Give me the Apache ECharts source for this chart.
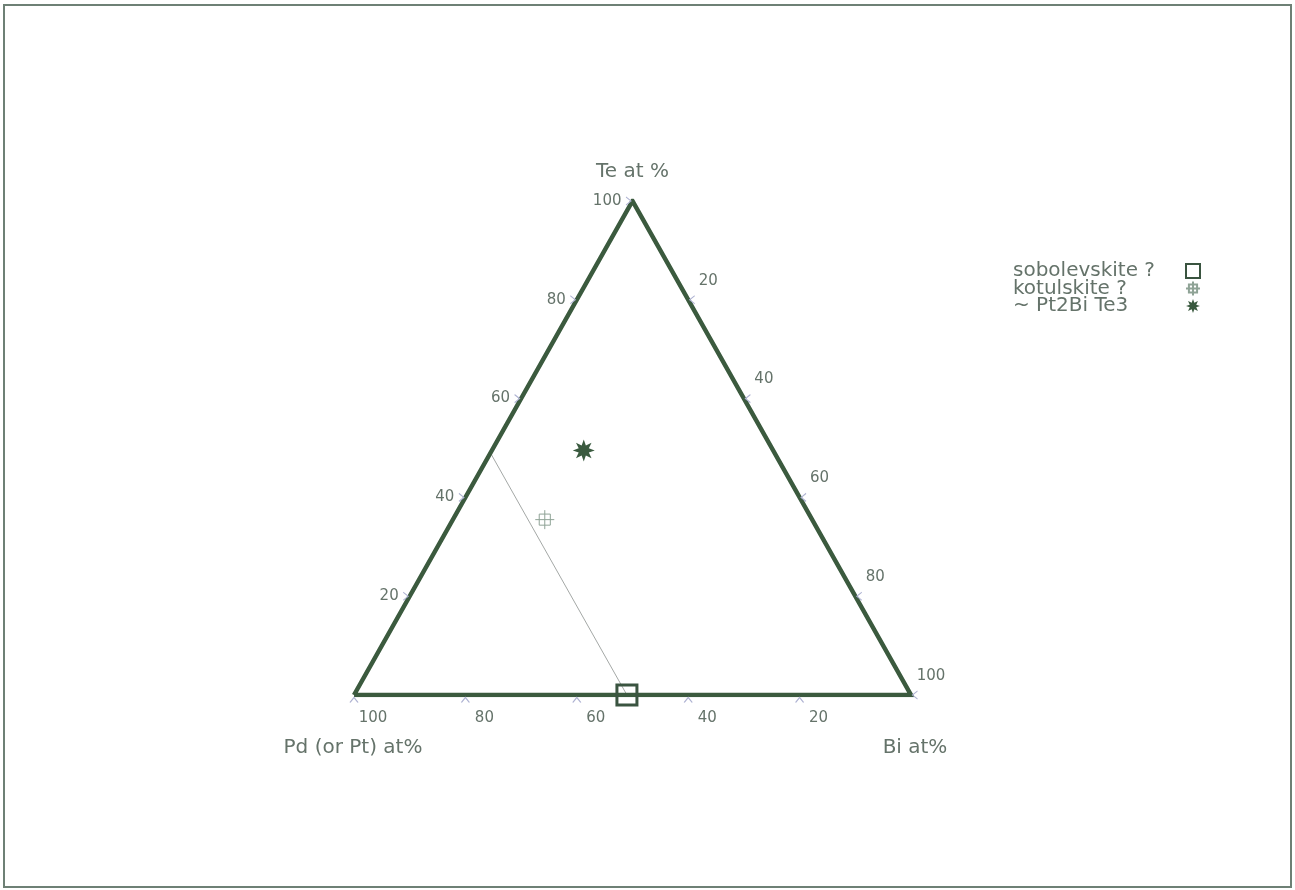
<!DOCTYPE html>
<html>
<head>
<meta charset="utf-8">
<title>Pd–Bi–Te ternary</title>
<script src="https://cdn.jsdelivr.net/npm/echarts@6/dist/echarts.min.js"></script>
<style>
  html, body { margin: 0; padding: 0; background: #fff; }
  #chart { width: 1295px; height: 890px; }
</style>
</head>
<body>
<div id="chart"></div>
<script>
// Compositions are [Pd, Bi, Te] in atomic %.
const vertexNames = ['Pd (or Pt) at%', 'Bi at%', 'Te at %'];
const vertices = [[100, 0, 0], [0, 100, 0], [0, 0, 100]];
const tickValues = [20, 40, 60, 80, 100];
const tieLine = [[51, 0, 49], [51, 49, 0]];
const sobolevskite = [[51, 49, 0]];
const kotulskite = [[48, 16.5, 35.5]];
const pt2bite3 = [[34, 16.5, 49.5]];
const seriesNames = ['sobolevskite ?', 'kotulskite ?', '~ Pt2Bi Te3'];

// ternary -> cartesian (x from Pd corner toward Bi corner, y toward Te apex)
function toXY(c) { return [c[1] + c[2] / 2, c[2]]; }

const frameColor = '#3b5a3e';
const textColor = '#65736a';
const tickColor = '#aeb2d2';
const font = 'DejaVu Sans';

function starPath(n, rOut, rIn) {
  let d = '';
  for (let i = 0; i < n * 2; i++) {
    const r = i % 2 === 0 ? rOut : rIn;
    const a = Math.PI * i / n - Math.PI / 2;
    const x = (rOut + r * Math.cos(a)).toFixed(2);
    const y = (rOut + r * Math.sin(a)).toFixed(2);
    d += (i === 0 ? 'M' : 'L') + x + ',' + y;
  }
  return 'path://' + d + 'Z';
}
const starSymbol = starPath(8, 10, 5);
const crossSymbol = 'path://M2.5,2.5L9.5,2.5L9.5,9.5L2.5,9.5Z M6,0L6,12 M0,6L12,6';
const chevron = 'path://M0,0L5,4L0,8';

const triangle = vertices.concat([vertices[0]]).map(toXY);

// tick positions along each side
const teTicks = tickValues.map(v => ({ value: toXY([100 - v, 0, v]), label: String(v) }));
const biTicks = tickValues.map(v => ({ value: toXY([0, v, 100 - v]), label: String(v) }));
const pdTicks = tickValues.map(v => ({ value: toXY([v, 100 - v, 0]), label: String(v) }));

function tickLabelSeries(ticks, labelOpt) {
  return {
    type: 'scatter', silent: true, symbolSize: 0, z: 3,
    itemStyle: { opacity: 1 },
    data: ticks.map(t => ({ value: t.value, name: t.label })),
    label: Object.assign({
      show: true, formatter: '{b}', color: textColor,
      fontFamily: font, fontSize: 15
    }, labelOpt)
  };
}
function tickMarkSeries(ticks, rotate, offset) {
  return {
    type: 'scatter', silent: true, symbol: chevron, symbolSize: [5, 8],
    symbolRotate: rotate, symbolOffset: offset, z: 2,
    itemStyle: { color: 'rgba(0,0,0,0)', borderColor: tickColor, borderWidth: 1, opacity: 1 },
    data: ticks.map(t => t.value)
  };
}

const chart = echarts.init(document.getElementById('chart'));
chart.setOption({
  backgroundColor: '#fff',
  animation: false,
  grid: { left: 354, top: 201, width: 557, height: 494 },
  xAxis: { type: 'value', min: 0, max: 100, show: false },
  yAxis: { type: 'value', min: 0, max: 100, show: false },
  legend: {
    orient: 'vertical', left: 1008, top: 256, align: 'right',
    itemWidth: 14, itemHeight: 14, itemGap: -2.5,
    formatter: n => '{a|' + n + '}',
    textStyle: {
      color: textColor, fontFamily: font, fontSize: 20,
      rich: { a: { width: 168, align: 'left', lineHeight: 17.5,
                   color: textColor, fontFamily: font, fontSize: 20 } }
    },
    data: [
      { name: seriesNames[0], itemStyle: { borderWidth: 2 } },
      { name: seriesNames[1] },
      { name: seriesNames[2] }
    ]
  },
  graphic: [
    { type: 'rect', silent: true, shape: { x: 4, y: 5, width: 1287, height: 882 },
      style: { fill: 'none', stroke: '#6e8075', lineWidth: 2 } }
  ],
  series: [
    {
      type: 'line', silent: true, symbol: 'none', z: 1,
      lineStyle: { color: '#a4a8a6', width: 1 },
      data: tieLine.map(toXY)
    },
    {
      type: 'line', silent: true, symbol: 'none', z: 2,
      lineStyle: { color: frameColor, width: 4.5, join: 'miter' },
      data: triangle
    },
    // corner titles
    {
      type: 'scatter', silent: true, symbolSize: 0, z: 3,
      itemStyle: { opacity: 1 },
      data: [
        { value: toXY(vertices[0]), name: vertexNames[0], label: { offset: [-1, 53] } },
        { value: toXY(vertices[1]), name: vertexNames[1], label: { offset: [4, 53] } },
        { value: toXY(vertices[2]), name: vertexNames[2], label: { offset: [0, -29] } }
      ],
      label: { show: true, formatter: '{b}', color: textColor, fontFamily: font, fontSize: 20 }
    },
    tickLabelSeries(teTicks, { position: 'left', distance: 0, offset: [-11, 0] }),
    tickLabelSeries(biTicks, { position: 'inside', offset: [20, -19] }),
    tickLabelSeries(pdTicks, { position: 'inside', offset: [19, 23] }),
    tickMarkSeries(teTicks, 0, [-4, 0]),
    tickMarkSeries(biTicks, 180, [4, 0]),
    tickMarkSeries(pdTicks, 90, [0, 5]),
    {
      name: seriesNames[0], type: 'scatter', symbol: 'rect', symbolSize: 20, z: 5,
      itemStyle: { color: 'rgba(255,255,255,0)', borderColor: '#3a5440', borderWidth: 3, opacity: 1 },
      data: sobolevskite.map(toXY)
    },
    {
      name: seriesNames[1], type: 'scatter', symbol: crossSymbol, symbolSize: 19, z: 5,
      itemStyle: { color: 'rgba(255,255,255,0)', borderColor: '#8fa396', borderWidth: 1, opacity: 1 },
      data: kotulskite.map(toXY)
    },
    {
      name: seriesNames[2], type: 'scatter', symbol: starSymbol, symbolSize: 22, z: 5,
      itemStyle: { color: '#3a5a3f', opacity: 1 },
      data: pt2bite3.map(toXY)
    }
  ]
});
</script>
</body>
</html>
